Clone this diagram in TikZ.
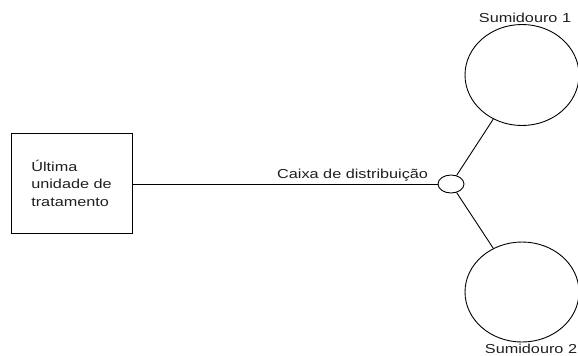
\documentclass[tikz,border=0pt]{standalone}
\usepackage{fontspec}
\setmainfont[FakeStretch=1.25]{Liberation Sans}
\usetikzlibrary{shapes.geometric}
\begin{document}
\begin{tikzpicture}[x=1bp,y=-1bp,
  every node/.style={font=\fontsize{13bp}{17.5bp}\selectfont, text=black!88},
  unitbox/.style={draw, line width=0.9bp, minimum width=121bp, minimum height=100bp, align=left, inner sep=0pt},
  sink/.style={draw, ellipse, line width=0.9bp, inner sep=0pt},
  conn/.style={line width=0.9bp}]
\useasboundingbox (0,0) rectangle (578,355);
\node[unitbox] (box) at (71.5,183) {Última\\unidade de\\tratamento};
\node[sink, minimum width=26bp, minimum height=18bp] (cd) at (451,184) {};
\node[sink, minimum width=114bp, minimum height=101bp] (s1) at (522,75) {};
\node[sink, minimum width=114bp, minimum height=100bp] (s2) at (522,292) {};
\node[anchor=base west, inner sep=0pt] (lcd) at (277,178) {Caixa de distribuição};
\node[anchor=base, inner sep=0pt] (ls1) at (525,22) {Sumidouro 1};
\node[anchor=base, inner sep=0pt] (ls2) at (531,353.5) {Sumidouro 2};
\draw[conn] (box.east |- cd.west) -- (cd.west);
\draw[conn] (cd) -- (s1);
\draw[conn] (cd) -- (s2);
\end{tikzpicture}
\end{document}
